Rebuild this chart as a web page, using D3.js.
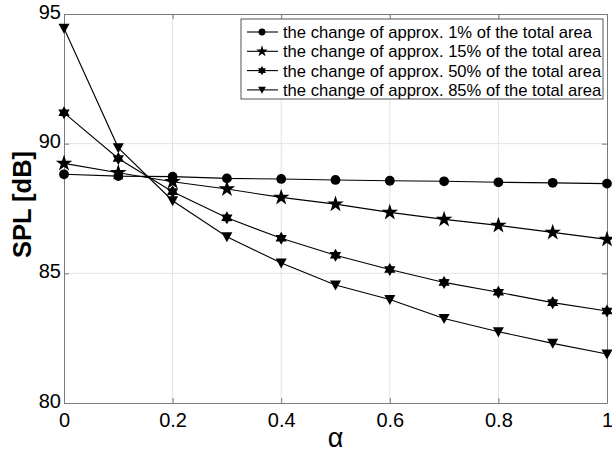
<!DOCTYPE html>
<meta charset="utf-8">
<style>
    body { margin: 0; background: #fff; }
    text { font-family: "Liberation Sans", Arial, sans-serif; }
    .tick text { font-size: 20px; fill: #000; }
    .legend text { font-size: 16.6px; }
</style>
<svg width="612" height="455"></svg>
<script src="https://d3js.org/d3.v7.min.js"></script>
<script>

    // alpha values on the x axis
    var alpha = [0, 0.1, 0.2, 0.3, 0.4, 0.5, 0.6, 0.7, 0.8, 0.9, 1];

    // SPL [dB] for each changed area share
    var spl1  = [88.82, 88.75, 88.73, 88.66, 88.64, 88.60, 88.57, 88.55, 88.51, 88.49, 88.46];
    var spl15 = [89.24, 88.88, 88.53, 88.25, 87.93, 87.67, 87.35, 87.08, 86.85, 86.58, 86.31];
    var spl50 = [91.19, 89.43, 88.15, 87.14, 86.35, 85.70, 85.15, 84.65, 84.27, 83.87, 83.55];
    var spl85 = [94.45, 89.84, 87.80, 86.41, 85.40, 84.55, 83.99, 83.26, 82.75, 82.30, 81.89];

    var names = [
        "the change of approx. 1% of the total area",
        "the change of approx. 15% of the total area",
        "the change of approx. 50% of the total area",
        "the change of approx. 85% of the total area"
    ];
    var markers = ["circle", "star", "hexstar", "triangle"];

    var xTicks = [0, 0.2, 0.4, 0.6, 0.8, 1];
    var yTicks = [80, 85, 90, 95];

    var svg = d3.select("svg"),
        margin = {top: 14, right: 5, bottom: 52, left: 64},
        width = 612 - margin.left - margin.right,
        height = 455 - margin.top - margin.bottom,
        g = svg.append("g").attr("transform", "translate(" + margin.left + "," + margin.top + ")");

    var x = d3.scaleLinear().domain([0, 1]).range([0, width]);
    var y = d3.scaleLinear().domain([80, 95]).range([height, 0]);

    // grid
    g.append("g").selectAll("line").data(xTicks.slice(1, -1)).enter().append("line")
        .attr("x1", function(d) { return x(d); }).attr("x2", function(d) { return x(d); })
        .attr("y1", 0).attr("y2", height)
        .attr("stroke", "#e3e3e3").attr("stroke-width", 1);
    g.append("g").selectAll("line").data(yTicks.slice(1, -1)).enter().append("line")
        .attr("y1", function(d) { return y(d); }).attr("y2", function(d) { return y(d); })
        .attr("x1", 0).attr("x2", width)
        .attr("stroke", "#e3e3e3").attr("stroke-width", 1);

    // axes
    var xAxis = g.append("g").attr("transform", "translate(0," + height + ")")
        .call(d3.axisBottom(x).tickValues(xTicks).tickSizeInner(-5).tickSizeOuter(0).tickPadding(6)
            .tickFormat(function(d) { return d3.format("")(+d.toFixed(1)); }));
    var yAxis = g.append("g")
        .call(d3.axisLeft(y).tickValues(yTicks).tickSizeInner(-5).tickSizeOuter(0).tickPadding(3));
    g.append("g").attr("transform", "translate(" + width + ",0)")
        .call(d3.axisRight(y).tickValues(yTicks).tickSizeInner(-5).tickSizeOuter(0).tickFormat(""));
    g.append("g")
        .call(d3.axisTop(x).tickValues(xTicks).tickSizeInner(-5).tickSizeOuter(0).tickFormat(""));
    g.selectAll(".domain, .tick line").attr("stroke", "#7a7a7a");
    xAxis.selectAll(".tick text").attr("dy", "0.9em");
    yAxis.selectAll(".tick text").attr("dy", "0.2em");

    // labels
    svg.append("text")
        .attr("transform", "translate(31," + (margin.top + height / 2 - 4) + ") rotate(-90)")
        .attr("text-anchor", "middle")
        .style("font-size", "25.5px").style("font-weight", "bold")
        .text("SPL [dB]");
    svg.append("text")
        .attr("x", margin.left + width / 2).attr("y", 447)
        .attr("text-anchor", "middle")
        .style("font-size", "27px")
        .text("α");

    // marker shapes
    function markerPath(type) {
        if (type === "circle") return d3.symbol().type(d3.symbolCircle).size(75)();
        if (type === "star") return d3.symbol().type(d3.symbolStar).size(85)();
        if (type === "hexstar") {
            var pts = [];
            for (var i = 0; i < 12; i++) {
                var r = i % 2 === 0 ? 6.5 : 3.8, a = Math.PI * i / 6 - Math.PI / 2;
                pts.push([r * Math.cos(a), r * Math.sin(a)]);
            }
            return "M" + pts.join("L") + "Z";
        }
        return "M-5.5,-4.5L5.5,-4.5L0,5.5Z";
    }

    var line = d3.line()
        .x(function(d, i) { return x(alpha[i]); })
        .y(function(d) { return y(d); });

    var series = [spl1, spl15, spl50, spl85];
    series.forEach(function(s, k) {
        var sg = g.append("g");
        sg.append("path").datum(s)
            .attr("d", line)
            .attr("fill", "none").attr("stroke", "#000").attr("stroke-width", 1.1);
        sg.selectAll("path.m").data(s).enter().append("path")
            .attr("class", "m")
            .attr("transform", function(d, i) { return "translate(" + x(alpha[i]) + "," + y(d) + ")"; })
            .attr("d", markerPath(markers[k]))
            .attr("fill", "#000");
    });

    // legend
    var lg = svg.append("g").attr("class", "legend").attr("transform", "translate(241,19)");
    lg.append("rect").attr("width", 362).attr("height", 80)
        .attr("fill", "#fff").attr("stroke", "#555").attr("stroke-width", 1);
    names.forEach(function(n, k) {
        var yy = 13 + k * 19.3;
        lg.append("line").attr("x1", 6).attr("x2", 37).attr("y1", yy).attr("y2", yy)
            .attr("stroke", "#000").attr("stroke-width", 1.1);
        lg.append("path").attr("transform", "translate(21," + yy + ") scale(0.7)")
            .attr("d", markerPath(markers[k])).attr("fill", "#000");
        lg.append("text").attr("x", 42).attr("y", yy + 6).text(n);
    });

</script>
